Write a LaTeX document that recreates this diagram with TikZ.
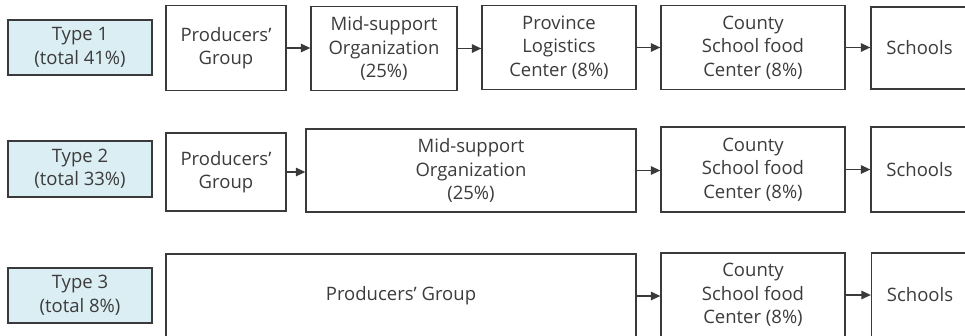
\documentclass[tikz,border=0pt]{standalone}
\usepackage{fontspec}
\setmainfont{Open Sans}
\usetikzlibrary{arrows.meta}
\definecolor{typefill}{HTML}{DAEEF3}
\definecolor{linegray}{HTML}{3A3A3A}
\definecolor{textgray}{HTML}{3C3C3C}
\begin{document}
\begin{tikzpicture}[x=1pt,y=-1pt,
  box/.style={draw=linegray, line width=1.3pt, fill=white, align=center, inner sep=0pt,
    text=textgray, font=\fontsize{18.5}{23.5}\selectfont},
  typebox/.style={box, fill=typefill},
  arr/.style={draw=linegray, line width=1.3pt, -{Triangle[length=9.5pt,width=8.5pt]}}]
\useasboundingbox (0,0) rectangle (965,335);
\clip (0,0) rectangle (965,335);
% Row 1
\node[typebox, minimum width=144pt, minimum height=55pt] (t1) at (80,47.5) {Type 1\\(total 41\%)};
\node[box, minimum width=120pt, minimum height=85pt] (p1) at (226,48) {Producers’\\Group};
\node[box, minimum width=146pt, minimum height=84pt] (m1) at (384,48.5) {Mid-support\\Organization\\(25\%)};
\node[box, minimum width=154pt, minimum height=84pt] (v1) at (559,47.5) {Province\\Logistics\\Center (8\%)};
\node[box, minimum width=184pt, minimum height=84pt] (c1) at (753,47.5) {County\\School food\\Center (8\%)};
\node[box, minimum width=97pt, minimum height=82pt] (s1) at (919.5,48) {Schools};
\draw[arr] (p1.east) -- (p1.east -| m1.west);
\draw[arr] (m1.east) -- (m1.east -| v1.west);
\draw[arr] (v1.east) -- (v1.east -| c1.west);
\draw[arr] (c1.east) -- (c1.east -| s1.west);
% Row 2
\node[typebox, minimum width=144pt, minimum height=56pt] (t2) at (80,169) {Type 2\\(total 33\%)};
\node[box, minimum width=120pt, minimum height=78pt] (p2) at (226,172) {Producers’\\Group};
\node[box, minimum width=330pt, minimum height=83pt] (m2) at (471,170.5) {Mid-support\\Organization\\(25\%)};
\node[box, minimum width=184pt, minimum height=85pt] (c2) at (753,169.5) {County\\School food\\Center (8\%)};
\node[box, minimum width=97pt, minimum height=85pt] (s2) at (919.5,169.5) {Schools};
\draw[arr] (p2.east) -- (p2.east -| m2.west);
\draw[arr] (m2.east) -- (m2.east -| c2.west);
\draw[arr] (c2.east) -- (c2.east -| s2.west);
% Row 3
\node[typebox, minimum width=144pt, minimum height=55pt] (t3) at (80,295.5) {Type 3\\(total 8\%)};
\node[box, minimum width=470pt, minimum height=84pt] (p3) at (401,296) {Producers’ Group};
\node[box, minimum width=184pt, minimum height=84pt] (c3) at (753,295) {County\\School food\\Center (8\%)};
\node[box, minimum width=97pt, minimum height=84pt] (s3) at (920,295) {Schools};
\draw[arr] (p3.east) -- (p3.east -| c3.west);
\draw[arr] (c3.east) -- (c3.east -| s3.west);
\end{tikzpicture}
\end{document}
